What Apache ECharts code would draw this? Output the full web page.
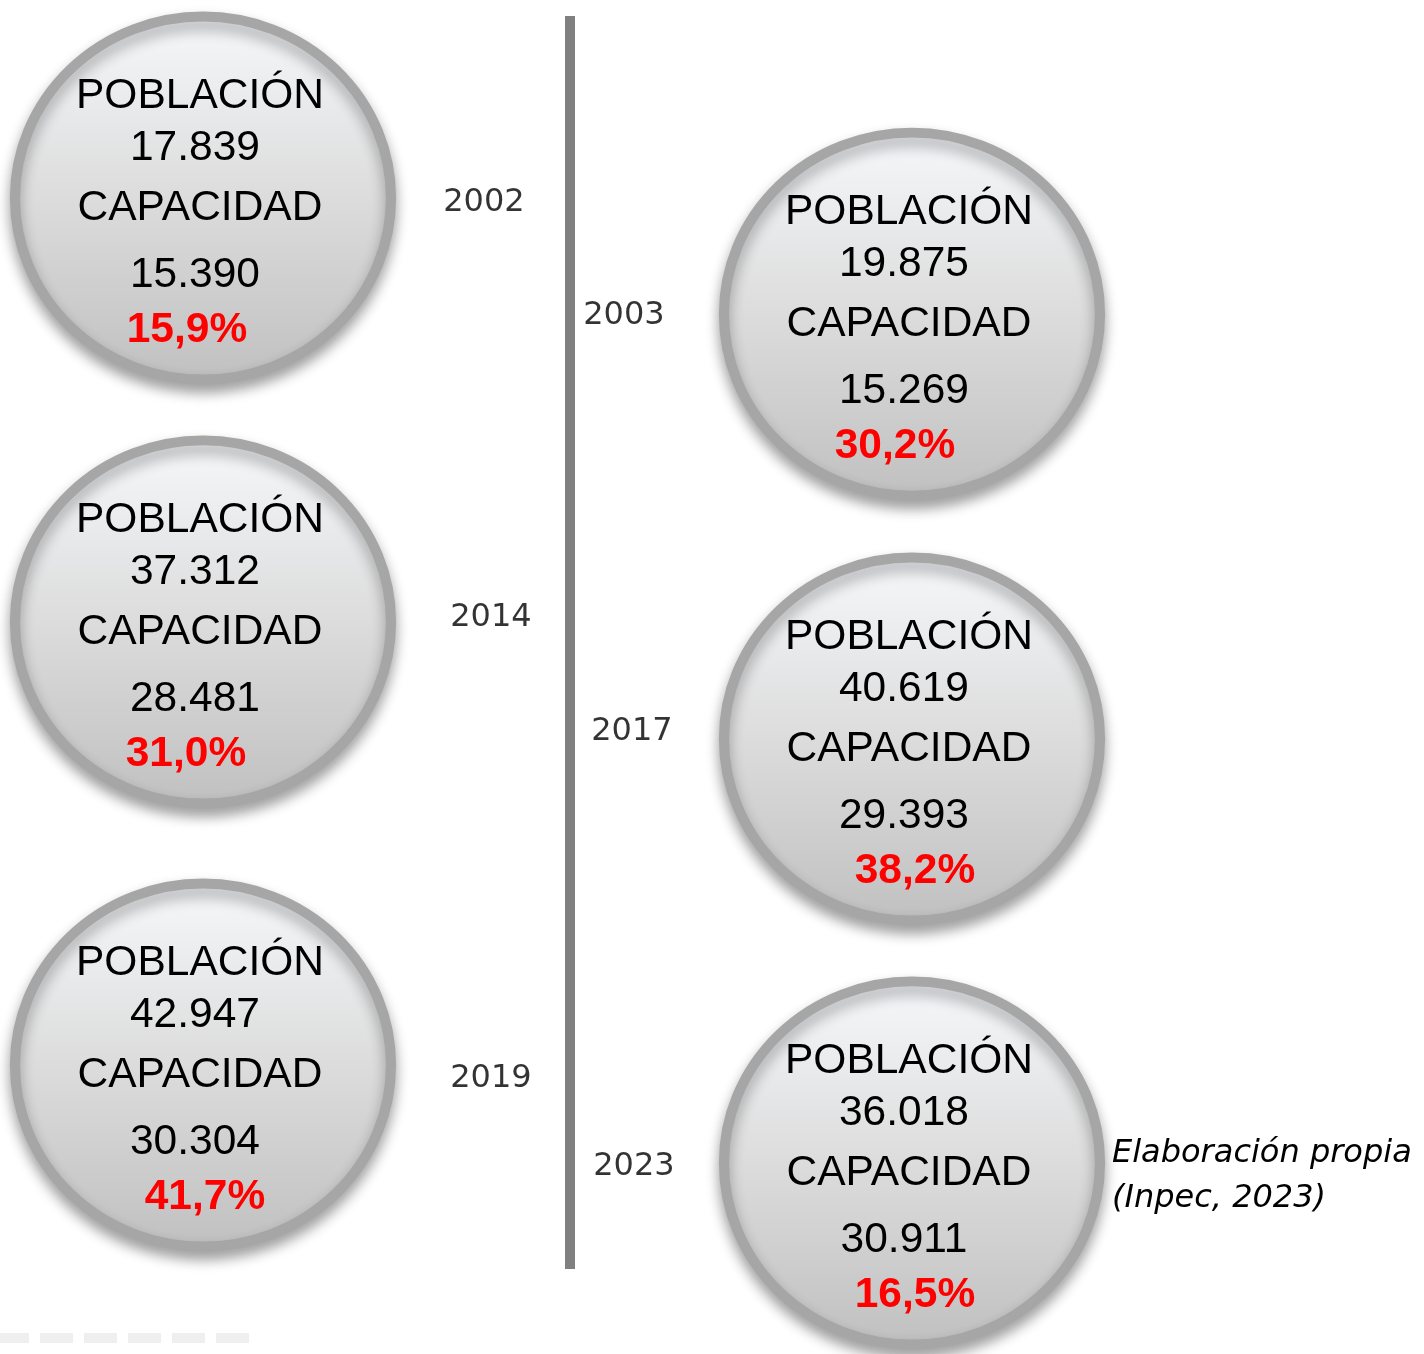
<!DOCTYPE html>
<html>
<head>
<meta charset="utf-8">
<script src="https://cdn.jsdelivr.net/npm/echarts@6/dist/echarts.min.js"></script>
<style>
html,body{margin:0;padding:0;background:#fff;}
#chart{width:1424px;height:1354px;}
</style>
</head>
<body>
<div id="chart"></div>
<script>
// ---- data ----
const years = ['2002', '2003', '2014', '2017', '2019', '2023'];
const poblacion = ['17.839', '19.875', '37.312', '40.619', '42.947', '36.018'];
const capacidad = ['15.390', '15.269', '28.481', '29.393', '30.304', '30.911'];
const hacinamiento = ['15,9%', '30,2%', '31,0%', '38,2%', '41,7%', '16,5%'];
const labelPoblacion = 'POBLACIÓN';
const labelCapacidad = 'CAPACIDAD';
const fuente = 'Elaboración propia\n(Inpec, 2023)';

// ---- layout (not data) ----
const column = [0, 1, 0, 1, 0, 1];
const row = [0, 0.268, 0.978, 1.248, 2.0, 2.226];
const pctShift = [-13, -14, -14, 6, 5, 6];
const yearOffset = [[281, 5], [-288, 2], [288, -4], [-280, -7], [288, 14], [-278, 4]];
const timelineX = 0.5176;
const timelineRows = [-0.4198, 2.4706];

const chart = echarts.init(document.getElementById('chart'), null, {renderer: 'canvas'});

const fam = '"Liberation Sans", Arial, sans-serif';

const circleData = years.map((y, i) => {
  const s = pctShift[i];
  const pad = s < 0 ? [0, -2 * s, 0, 0] : [0, 0, 0, 2 * s];
  return {
    value: [column[i], row[i]],
    label: {
      formatter: '{p|' + labelPoblacion + '}\n{n|' + poblacion[i] + '}\n{c|' + labelCapacidad + '}\n{m|' + capacidad[i] + '}\n{r|' + hacinamiento[i] + '}',
      rich: {
        p: {fontSize: 42.5, fontFamily: fam, color: '#000', lineHeight: 52},
        n: {fontSize: 42.5, fontFamily: fam, color: '#000', lineHeight: 52, padding: [0, 10, 0, 0]},
        c: {fontSize: 42.5, fontFamily: fam, color: '#000', lineHeight: 68},
        m: {fontSize: 42.5, fontFamily: fam, color: '#000', lineHeight: 66, padding: [0, 10, 0, 0]},
        r: {fontSize: 42.5, fontFamily: fam, color: '#ff0000', fontWeight: 'bold', lineHeight: 44, padding: pad}
      }
    }
  };
});

const yearData = years.map((y, i) => ({
  value: [column[i], row[i]],
  label: {formatter: y, offset: yearOffset[i]}
}));

const option = {
  backgroundColor: '#ffffff',
  animation: false,
  title: {
    text: fuente,
    left: 1112,
    top: 1131,
    padding: 0,
    textStyle: {
      fontFamily: '"DejaVu Sans", sans-serif',
      fontStyle: 'italic',
      fontWeight: 'normal',
      fontSize: 32,
      lineHeight: 45,
      color: '#000'
    }
  },
  grid: {left: 0, right: 0, top: 0, bottom: 0, containLabel: false},
  xAxis: {type: 'value', min: -0.2863, max: 1.7222, show: false},
  yAxis: {type: 'value', min: -0.4567, max: 2.6667, inverse: true, show: false},
  graphic: [{
    type: 'line',
    silent: true,
    shape: {x1: -4, y1: 1338, x2: 254, y2: 1338},
    style: {stroke: '#efefef', lineWidth: 10, lineDash: [33, 11]}
  }],
  series: [
    {
      type: 'scatter',
      name: 'timeline',
      data: [],
      silent: true,
      markLine: {
        symbol: ['none', 'none'],
        silent: true,
        label: {show: false},
        lineStyle: {color: '#808080', width: 10, type: 'solid'},
        data: [[{coord: [timelineX, timelineRows[0]]}, {coord: [timelineX, timelineRows[1]]}]]
      }
    },
    {
      type: 'scatter',
      name: 'circulos',
      symbol: 'circle',
      symbolSize: [376, 363],
      silent: true,
      itemStyle: {
        color: new echarts.graphic.LinearGradient(0, 0, 0, 1, [
          {offset: 0, color: '#f6f8fb'},
          {offset: 0.5, color: '#dcdcdc'},
          {offset: 1, color: '#c0c0c0'}
        ]),
        borderColor: '#a6a6a6',
        borderWidth: 10,
        opacity: 1,
        shadowBlur: 14,
        shadowColor: 'rgba(0,0,0,0.32)',
        shadowOffsetY: 8
      },
      label: {
        show: true,
        position: 'inside',
        offset: [-3, 13],
        align: 'center',
        verticalAlign: 'middle'
      },
      data: circleData
    },
    {
      type: 'scatter',
      name: 'años',
      symbolSize: 1,
      silent: true,
      itemStyle: {color: 'rgba(0,0,0,0)'},
      label: {
        show: true,
        position: 'inside',
        fontFamily: '"DejaVu Sans", sans-serif',
        fontSize: 32,
        color: '#000',
        align: 'center',
        verticalAlign: 'middle'
      },
      data: yearData
    }
  ]
};
chart.setOption(option);
</script>
</body>
</html>
